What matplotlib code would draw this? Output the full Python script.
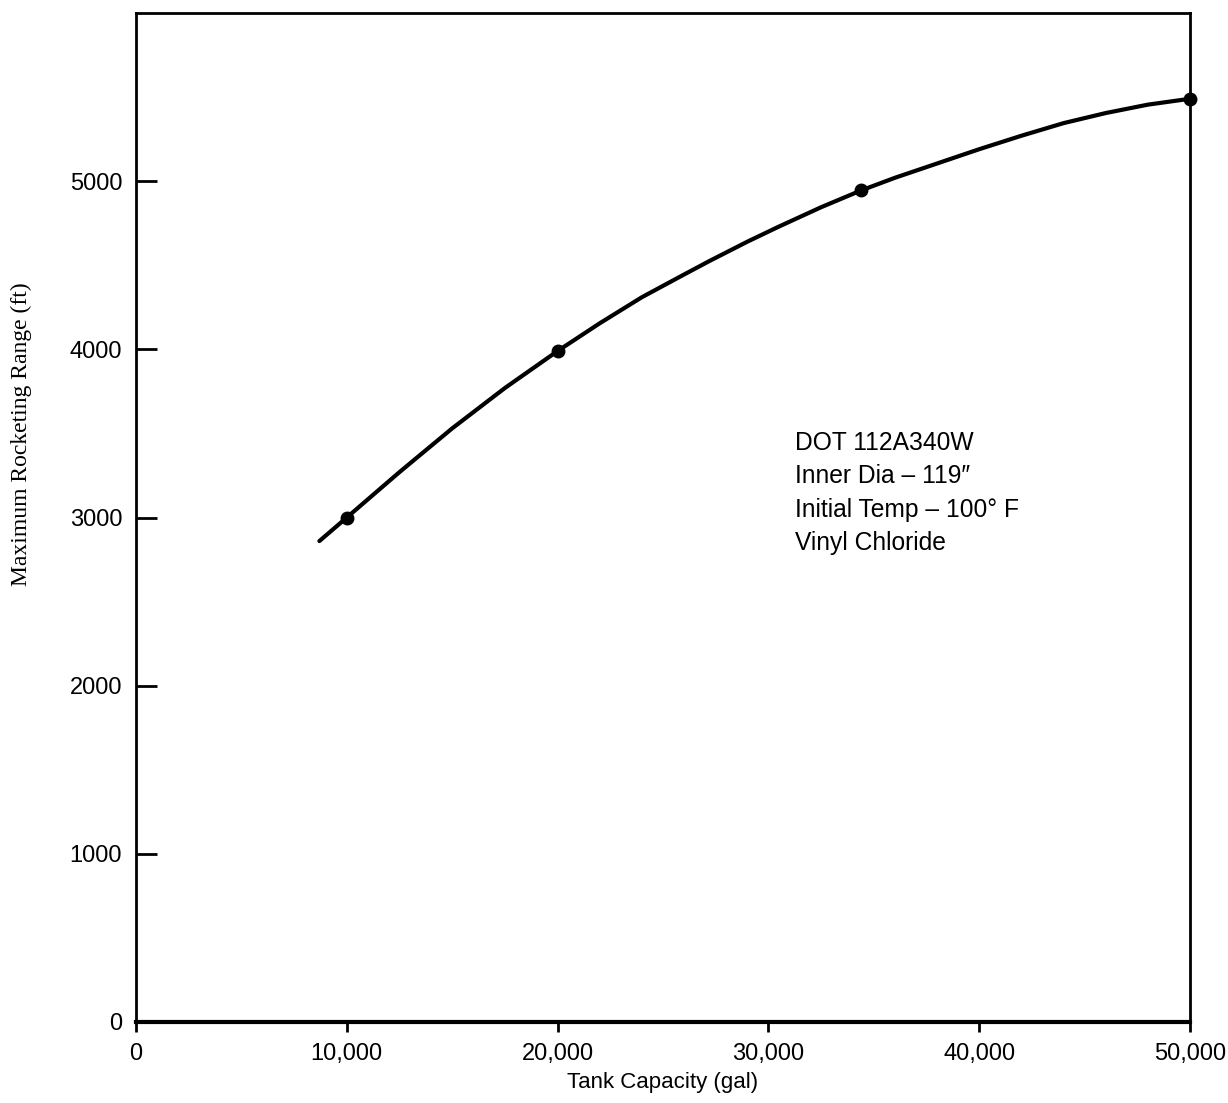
import matplotlib
matplotlib.use("Agg")
import matplotlib.pyplot as plt

# points marked on the curve
cap_pts = [10000, 20000, 34400, 50000]
range_pts = [3000, 3990, 4945, 5490]

# curve
cap_curve = [8700, 10000, 12500, 15000, 17500, 20000, 22000, 24000, 26000,
             27200, 29000, 30500, 32500, 34400, 36000, 38000, 40000, 42000,
             44000, 46000, 48000, 50000]
range_curve = [2860, 3000, 3270, 3530, 3770, 3990, 4155, 4310, 4445,
               4525, 4640, 4730, 4845, 4945, 5020, 5105, 5190, 5270,
               5345, 5405, 5455, 5490]

x_ticks = [0, 10000, 20000, 30000, 40000, 50000]
x_labels = ["0", "10,000", "20,000", "30,000", "40,000", "50,000"]
y_ticks = [0, 1000, 2000, 3000, 4000, 5000]

note = "DOT 112A340W\nInner Dia \u2013 119\u2033\nInitial Temp \u2013 100\u00b0 F\nVinyl Chloride"

plt.rcParams['font.family'] = ['Liberation Sans', 'DejaVu Sans']

fig = plt.figure(figsize=(12.28, 11.03), dpi=100)
ax = fig.add_axes([136/1228, 81/1103, 1054/1228, 1009/1103])

ax.plot(cap_curve, range_curve, color='black', lw=3, solid_capstyle='round',
        solid_joinstyle='round', clip_on=False)
ax.plot(cap_pts, range_pts, 'o', color='black', ms=9, clip_on=False)

ax.set_xlim(0, 50000)
ax.set_ylim(0, 6000)
ax.set_xticks(x_ticks)
ax.set_xticklabels(x_labels)
ax.set_yticks(y_ticks)

ax.tick_params(axis='y', direction='in', length=15, width=2, pad=10, labelsize=17)
ax.tick_params(axis='x', direction='out', length=7, width=2, pad=8, labelsize=17)

for s in ['left', 'top', 'right']:
    ax.spines[s].set_linewidth(2)
ax.spines['bottom'].set_linewidth(3)

ax.set_xlabel("Tank Capacity (gal)", fontsize=16)
ax.xaxis.set_label_coords(0.50, -0.050)
ax.set_ylabel("Maximum Rocketing Range (ft)", fontsize=17, family='Liberation Serif')
ax.yaxis.set_label_coords(-0.0987, 0.583)

ax.text(0.625, 0.586, note, transform=ax.transAxes, fontsize=17.7,
        va='top', ha='left', linespacing=1.5)

fig.savefig("out.png", dpi=100)
